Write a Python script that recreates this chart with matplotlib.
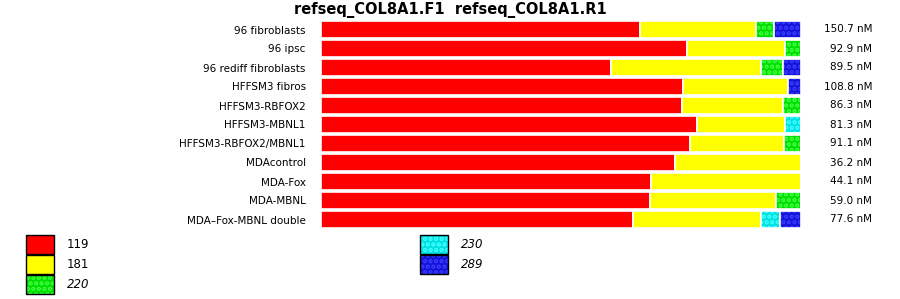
import matplotlib
matplotlib.use("Agg")
import matplotlib.pyplot as plt
from matplotlib.patches import Rectangle
import numpy as np

plt.rcParams["hatch.linewidth"] = 2.2

# samples, top to bottom
samples = ["96 fibroblasts", "96 ipsc", "96 rediff fibroblasts", "HFFSM3 fibros",
           "HFFSM3-RBFOX2", "HFFSM3-MBNL1", "HFFSM3-RBFOX2/MBNL1", "MDAcontrol",
           "MDA-Fox", "MDA-MBNL", "MDA\u2013Fox-MBNL double"]
conc = ["150.7 nM", "92.9 nM", "89.5 nM", "108.8 nM", "86.3 nM", "81.3 nM",
        "91.1 nM", "36.2 nM", "44.1 nM", "59.0 nM", "77.6 nM"]

# fraction of each product size per sample
sizes = ["119", "181", "220", "230", "289"]
p119 = [0.664, 0.763, 0.604, 0.754, 0.752, 0.783, 0.769, 0.737, 0.687, 0.685, 0.650]
p181 = [0.242, 0.204, 0.313, 0.219, 0.210, 0.183, 0.196, 0.263, 0.313, 0.262, 0.266]
p220 = [0.038, 0.033, 0.046, 0.000, 0.038, 0.000, 0.035, 0.000, 0.000, 0.053, 0.000]
p230 = [0.000, 0.000, 0.000, 0.000, 0.000, 0.034, 0.000, 0.000, 0.000, 0.000, 0.040]
p289 = [0.056, 0.000, 0.037, 0.027, 0.000, 0.000, 0.000, 0.000, 0.000, 0.000, 0.044]

colors = ["#ff0000", "#ffff00", "#00dd00", "#00e0e0", "#1414d8"]
dots = [None, None, "#44ff44", "#44ffff", "#3c3cff"]
italic = [False, False, True, True, True]
pattern = "..."

fig = plt.figure(figsize=(9, 2.99), dpi=100)
ax = fig.add_axes([321/900, 1 - 229/299, 480/900, 209/299])

y = np.arange(len(samples))
left = np.zeros(len(samples))
for vals, c, d in zip([p119, p181, p220, p230, p289], colors, dots):
    vals = np.array(vals)
    if d is None:
        ax.barh(y, vals, left=left, height=0.9, color=c, edgecolor="white", linewidth=1.2)
    else:
        ax.barh(y, vals, left=left, height=0.9, color=c, edgecolor=d, linewidth=0, hatch=pattern)
        ax.barh(y, vals, left=left, height=0.9, fill=False, edgecolor="white", linewidth=1.2)
    left = left + vals

ax.set_xlim(0, 1)
ax.set_ylim(len(samples) - 0.5, -0.5)
ax.set_yticks(y)
ax.set_yticklabels(samples, fontsize=7.5)
ax.tick_params(axis="y", length=0, pad=11)
ax.set_xticks([])
for s in ax.spines.values():
    s.set_visible(False)

for i, t in enumerate(conc):
    ax.text(1.148, i, t, fontsize=7.5, ha="right", va="center", transform=ax.get_yaxis_transform())

fig.text(0.5, 1 - 10/299, "refseq_COL8A1.F1  refseq_COL8A1.R1", ha="center", va="center",
         fontsize=10.5, fontweight="bold")

# legend swatches
lg = fig.add_axes([0, 0, 1, 1])
lg.set_xlim(0, 900)
lg.set_ylim(299, 0)
lg.axis("off")
spots = [(26, 235), (26, 255), (26, 275), (420, 235), (420, 255)]
for (x0, y0), c, d, lab, it in zip(spots, colors, dots, sizes, italic):
    if d is None:
        lg.add_patch(Rectangle((x0, y0), 28, 19, facecolor=c, edgecolor="black", linewidth=1))
    else:
        lg.add_patch(Rectangle((x0, y0), 28, 19, facecolor=c, edgecolor=d, linewidth=0, hatch=pattern))
        lg.add_patch(Rectangle((x0, y0), 28, 19, fill=False, edgecolor="black", linewidth=1))
    lg.text(x0 + 41, y0 + 10, lab, fontsize=8.5, va="center", style="italic" if it else "normal")

fig.savefig("out.png", dpi=100)
